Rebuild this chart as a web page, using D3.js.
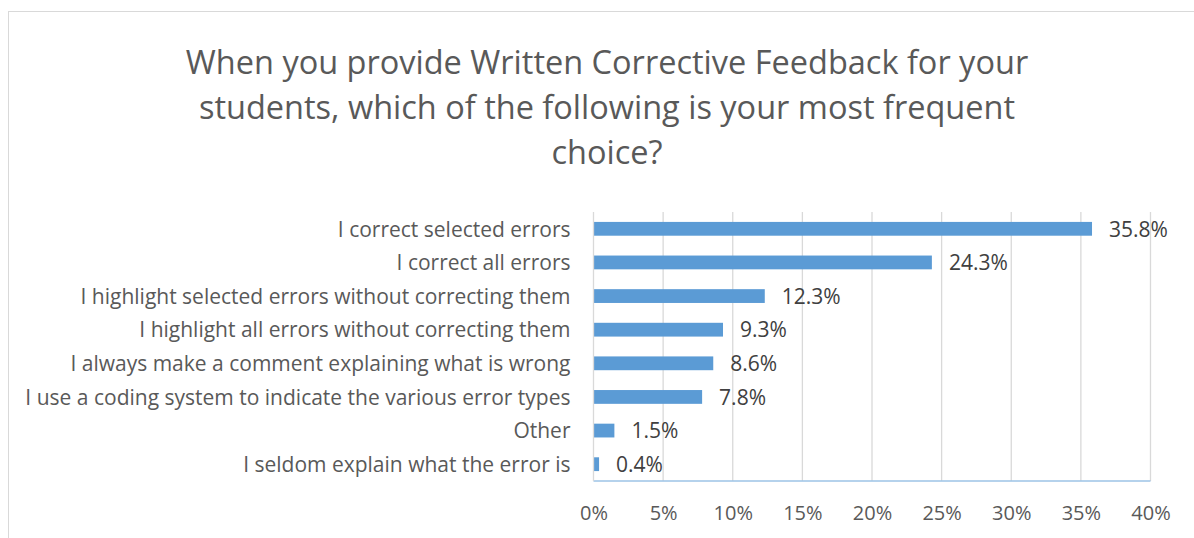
<!DOCTYPE html>
<html><head><meta charset="utf-8">
<script src="https://cdn.jsdelivr.net/npm/d3@7"></script>
<style>body{margin:0;background:#fff;} text{font-family:"Open Sans",sans-serif;}</style>
</head><body>
<svg id="c" width="1194" height="538"></svg>
<script>
const titleLines = ["When you provide Written Corrective Feedback for your","students, which of the following is your most frequent","choice?"];
const categories = ["I correct selected errors","I correct all errors","I highlight selected errors without correcting them","I highlight all errors without correcting them","I always make a comment explaining what is wrong","I use a coding system to indicate the various error types","Other","I seldom explain what the error is"];
const values = [35.8,24.3,12.3,9.3,8.6,7.8,1.5,0.4];
const xTicks = [0,5,10,15,20,25,30,35,40];

const svg = d3.select("#c");
svg.append("rect").attr("x",8.5).attr("y",11.5).attr("width",1200).attr("height",600).attr("fill","#fff").attr("stroke","#d9d9d9");

const m = {l:593.5, r:1150.5, t:212, b:481};
const x = d3.scaleLinear().domain([0,40]).range([m.l,m.r]);
const y = d3.scaleBand().domain(categories).range([m.t,m.b]).paddingInner(0.59).paddingOuter(0.295);

svg.append("g").selectAll("text").data(titleLines).join("text")
  .attr("x",607).attr("y",(d,i)=>74+i*45).attr("text-anchor","middle")
  .attr("fill","#595959").style("font-size","32.5px").text(d=>d);

const grid = svg.append("g");
grid.selectAll("line").data(xTicks.slice(1)).join("line")
  .attr("x1",d=>x(d)).attr("x2",d=>x(d)).attr("y1",m.t).attr("y2",m.b)
  .attr("stroke","#d9d9d9").attr("stroke-width",1.3);

svg.append("g").selectAll("rect").data(values).join("rect")
  .attr("x",x(0)).attr("y",(d,i)=>y(categories[i]))
  .attr("width",d=>x(d)-x(0)).attr("height",y.bandwidth())
  .attr("fill","#5b9bd5");

svg.append("line").attr("x1",m.l).attr("x2",m.r).attr("y1",m.b).attr("y2",m.b).attr("stroke","#9dc3e6").attr("stroke-width",1.5);
svg.append("line").attr("x1",m.l).attr("x2",m.l).attr("y1",m.t).attr("y2",m.b).attr("stroke","#d9d9d9").attr("stroke-width",1.3);

svg.append("g").selectAll("text").data(values).join("text")
  .attr("x",d=>x(d)+17).attr("y",(d,i)=>y(categories[i])+y.bandwidth()/2).attr("dy","0.37em")
  .attr("fill","#404040").style("font-size","21px").text(d=>d.toFixed(1)+"%");

const yAxis = d3.axisLeft(y).tickSize(0).tickPadding(23);
const ya = svg.append("g").attr("transform",`translate(${m.l},0)`).call(yAxis);
ya.select(".domain").remove();
ya.selectAll("text").attr("fill","#595959").attr("dy","0.37em").style("font-size","21px").style("font-family","'Open Sans',sans-serif");

const xAxis = d3.axisBottom(x).tickValues(xTicks).tickSize(0).tickPadding(25).tickFormat(d=>d+"%");
const xa = svg.append("g").attr("transform",`translate(0,${m.b})`).call(xAxis);
xa.select(".domain").remove();
xa.selectAll("text").attr("fill","#595959").style("font-size","20px").style("font-family","'Open Sans',sans-serif");
</script>
</body></html>
